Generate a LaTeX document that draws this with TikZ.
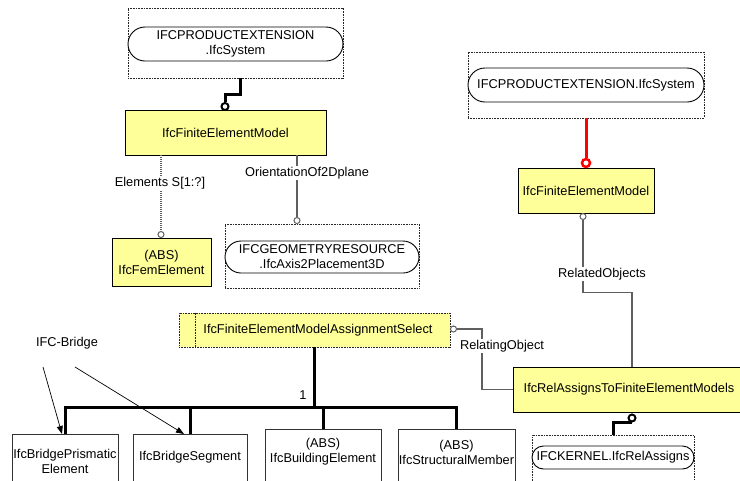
\documentclass[tikz,border=0pt]{standalone}
\usepackage{fontspec}
\setmainfont{Liberation Sans}
\usetikzlibrary{arrows.meta,calc}
\definecolor{ylw}{HTML}{FFFF99}
\definecolor{lgray}{HTML}{5F5F5F}
\begin{document}
\begin{tikzpicture}[x=1pt,y=-1pt]
\tikzset{
 every node/.style={font=\fontsize{12.8}{15}\selectfont, inner sep=0pt},
 ybox/.style={draw=black, line width=0.9pt, fill=ylw, align=center},
 wbox/.style={draw=black!80, line width=0.9pt, fill=white},
 dbox/.style={draw=black!85, line width=0.8pt, dash pattern=on 0.8pt off 0.8pt},
 sbox/.style={draw=black!85, line width=0.8pt, dash pattern=on 0.8pt off 0.8pt, fill=ylw},
 pill/.style={draw=black, line width=0.9pt, fill=white, rounded corners=#1, align=center},
 gline/.style={draw=lgray, line width=1.1pt},
 bline/.style={draw=black, line width=3pt},
 rline/.style={draw=red, line width=3pt},
 gcirc/.style={circle, draw=lgray, line width=1pt, fill=white, minimum size=6pt, inner sep=0pt},
 bcirc/.style={circle, draw=black, line width=2pt, fill=white, minimum size=7pt, inner sep=0pt},
 rcirc/.style={circle, draw=red, line width=2.5pt, fill=white, minimum size=8pt, inner sep=0pt},
 lbl/.style={fill=white, inner sep=1pt},
 arr/.style={draw=black, line width=0.7pt, -{Triangle[length=8pt,width=6pt]}},
}
\useasboundingbox (0,0) rectangle (740,480);
\clip (0,0) rectangle (740,480);
\fill[white] (0,0) rectangle (740,480);

% top-left system
\node[dbox, minimum width=215pt, minimum height=70pt] (s1box) at (235.5,43) {};
\node[pill=17pt, minimum width=215pt, minimum height=34pt] (s1) at (235.5,44) {IFCPRODUCTEXTENSION\\.IfcSystem};
\node[ybox, minimum width=201pt, minimum height=45pt] (fem1) at (225.5,132.5) {IfcFiniteElementModel};
\node[ybox, minimum width=99pt, minimum height=48pt] (femel) at (161.5,262) {(ABS)\\IfcFemElement};
\node[dbox, minimum width=194pt, minimum height=64pt] (geobox) at (322,256) {};
\node[pill=16pt, minimum width=194pt, minimum height=32pt] (geo) at (322,257) {IFCGEOMETRYRESOURCE\\.IfcAxis2Placement3D};

% right system
\node[dbox, minimum width=236pt, minimum height=66pt] (s2box) at (586,85) {};
\node[pill=17pt, minimum width=236pt, minimum height=34pt] (s2) at (586,85) {IFCPRODUCTEXTENSION.IfcSystem};
\node[ybox, minimum width=136pt, minimum height=45pt] (fem2) at (586,190.5) {IfcFiniteElementModel};

% select
\node[sbox, minimum width=271pt, minimum height=34pt] (sel) at (314.5,330) {};
\draw[dbox] ([xshift=17pt]sel.north west) -- ([xshift=17pt]sel.south west);
\node (selt) at (318,330) {IfcFiniteElementModelAssignmentSelect};

% rel
\node[ybox, minimum width=232pt, minimum height=45pt] (rel) at (629,389.5) {IfcRelAssignsToFiniteElementModels};
\node[dbox, minimum width=162pt, minimum height=60pt, anchor=north] (kbox) at (613,435) {};
\node[pill=11.5pt, minimum width=162pt, minimum height=23pt] (kern) at (613,457.5) {IFCKERNEL.IfcRelAssigns};

% bottom boxes
\node[wbox, minimum width=106pt, minimum height=60pt, anchor=north] (b1) at (65,434) {};
\node[align=center] (t1) at (65,461) {IfcBridgePrismatic\\Element};
\node[wbox, minimum width=114pt, minimum height=60pt, anchor=north] (b2) at (190,434) {};
\node (t2) at (190,457) {IfcBridgeSegment};
\node[wbox, minimum width=116pt, minimum height=60pt, anchor=north] (b3) at (323,429) {};
\node[align=center] (t3) at (323,452) {(ABS)\\IfcBuildingElement};
\node[wbox, minimum width=117pt, minimum height=60pt, anchor=north] (b4) at (456.5,429) {};
\node[align=center] (t4) at (456.5,452) {(ABS)\\IfcStructuralMember};

% s1 -> fem1
\node[bcirc] (c1) at (225,106.5) {};
\draw[bline] ([xshift=4.5pt]s1box.south) -- ++(0,16) -| (c1.north);

% fem1 -> femel
\node[gcirc] (c2) at (161,234.5) {};
\draw[gline, dash pattern=on 1pt off 1pt] (fem1.south -| c2) -- (c2.north);
\node[lbl] (l1) at (160,183) {Elements S[1:?]};

% fem1 -> geo
\node[gcirc] (c3) at (297,220.5) {};
\draw[gline] (fem1.south -| c3) -- (c3.north);
\node[lbl] (l2) at (307,173) {OrientationOf2Dplane};

% s2 -> fem2
\node[rcirc] (c4) at (586,163) {};
\draw[rline] (s2box.south) -- (c4.north);

% fem2 -> rel
\node[gcirc] (c5) at (583,216.5) {};
\draw[gline] (c5.south) -- ++(0,72.5) -| ([xshift=3pt]rel.north);
\node[lbl] (l3) at (602,274) {RelatedObjects};

% sel -> rel
\node[gcirc] (c6) at (453.5,329) {};
\draw[gline] (c6.east) -- ++(25,0) |- (rel.west);
\node[lbl] (l4) at (502,346) {RelatingObject};

% rel -> kern
\node[bcirc] (c7) at (632,418) {};
\draw[bline] (kbox.north) |- (c7.south);

% bus
\coordinate (bj) at (315,407);
\draw[bline] (sel.south) -- (sel.south |- bj);
\draw[bline] (b1.north) |- (bj) -| (b4.north);
\draw[bline] (b2.north) -- (b2.north |- bj);
\draw[bline] (b3.north) -- (b3.north |- bj);
\node (one) at (303,395) {1};

% IFC-Bridge
\node (ifcb) at (67,343) {IFC-Bridge};
\coordinate (a1) at (43,367);
\coordinate (a2) at (75,367);
\draw[arr] (a1) -- ([xshift=-3pt]b1.north);
\draw[arr] (a2) -- ([xshift=-6pt]b2.north);
\end{tikzpicture}
\end{document}
